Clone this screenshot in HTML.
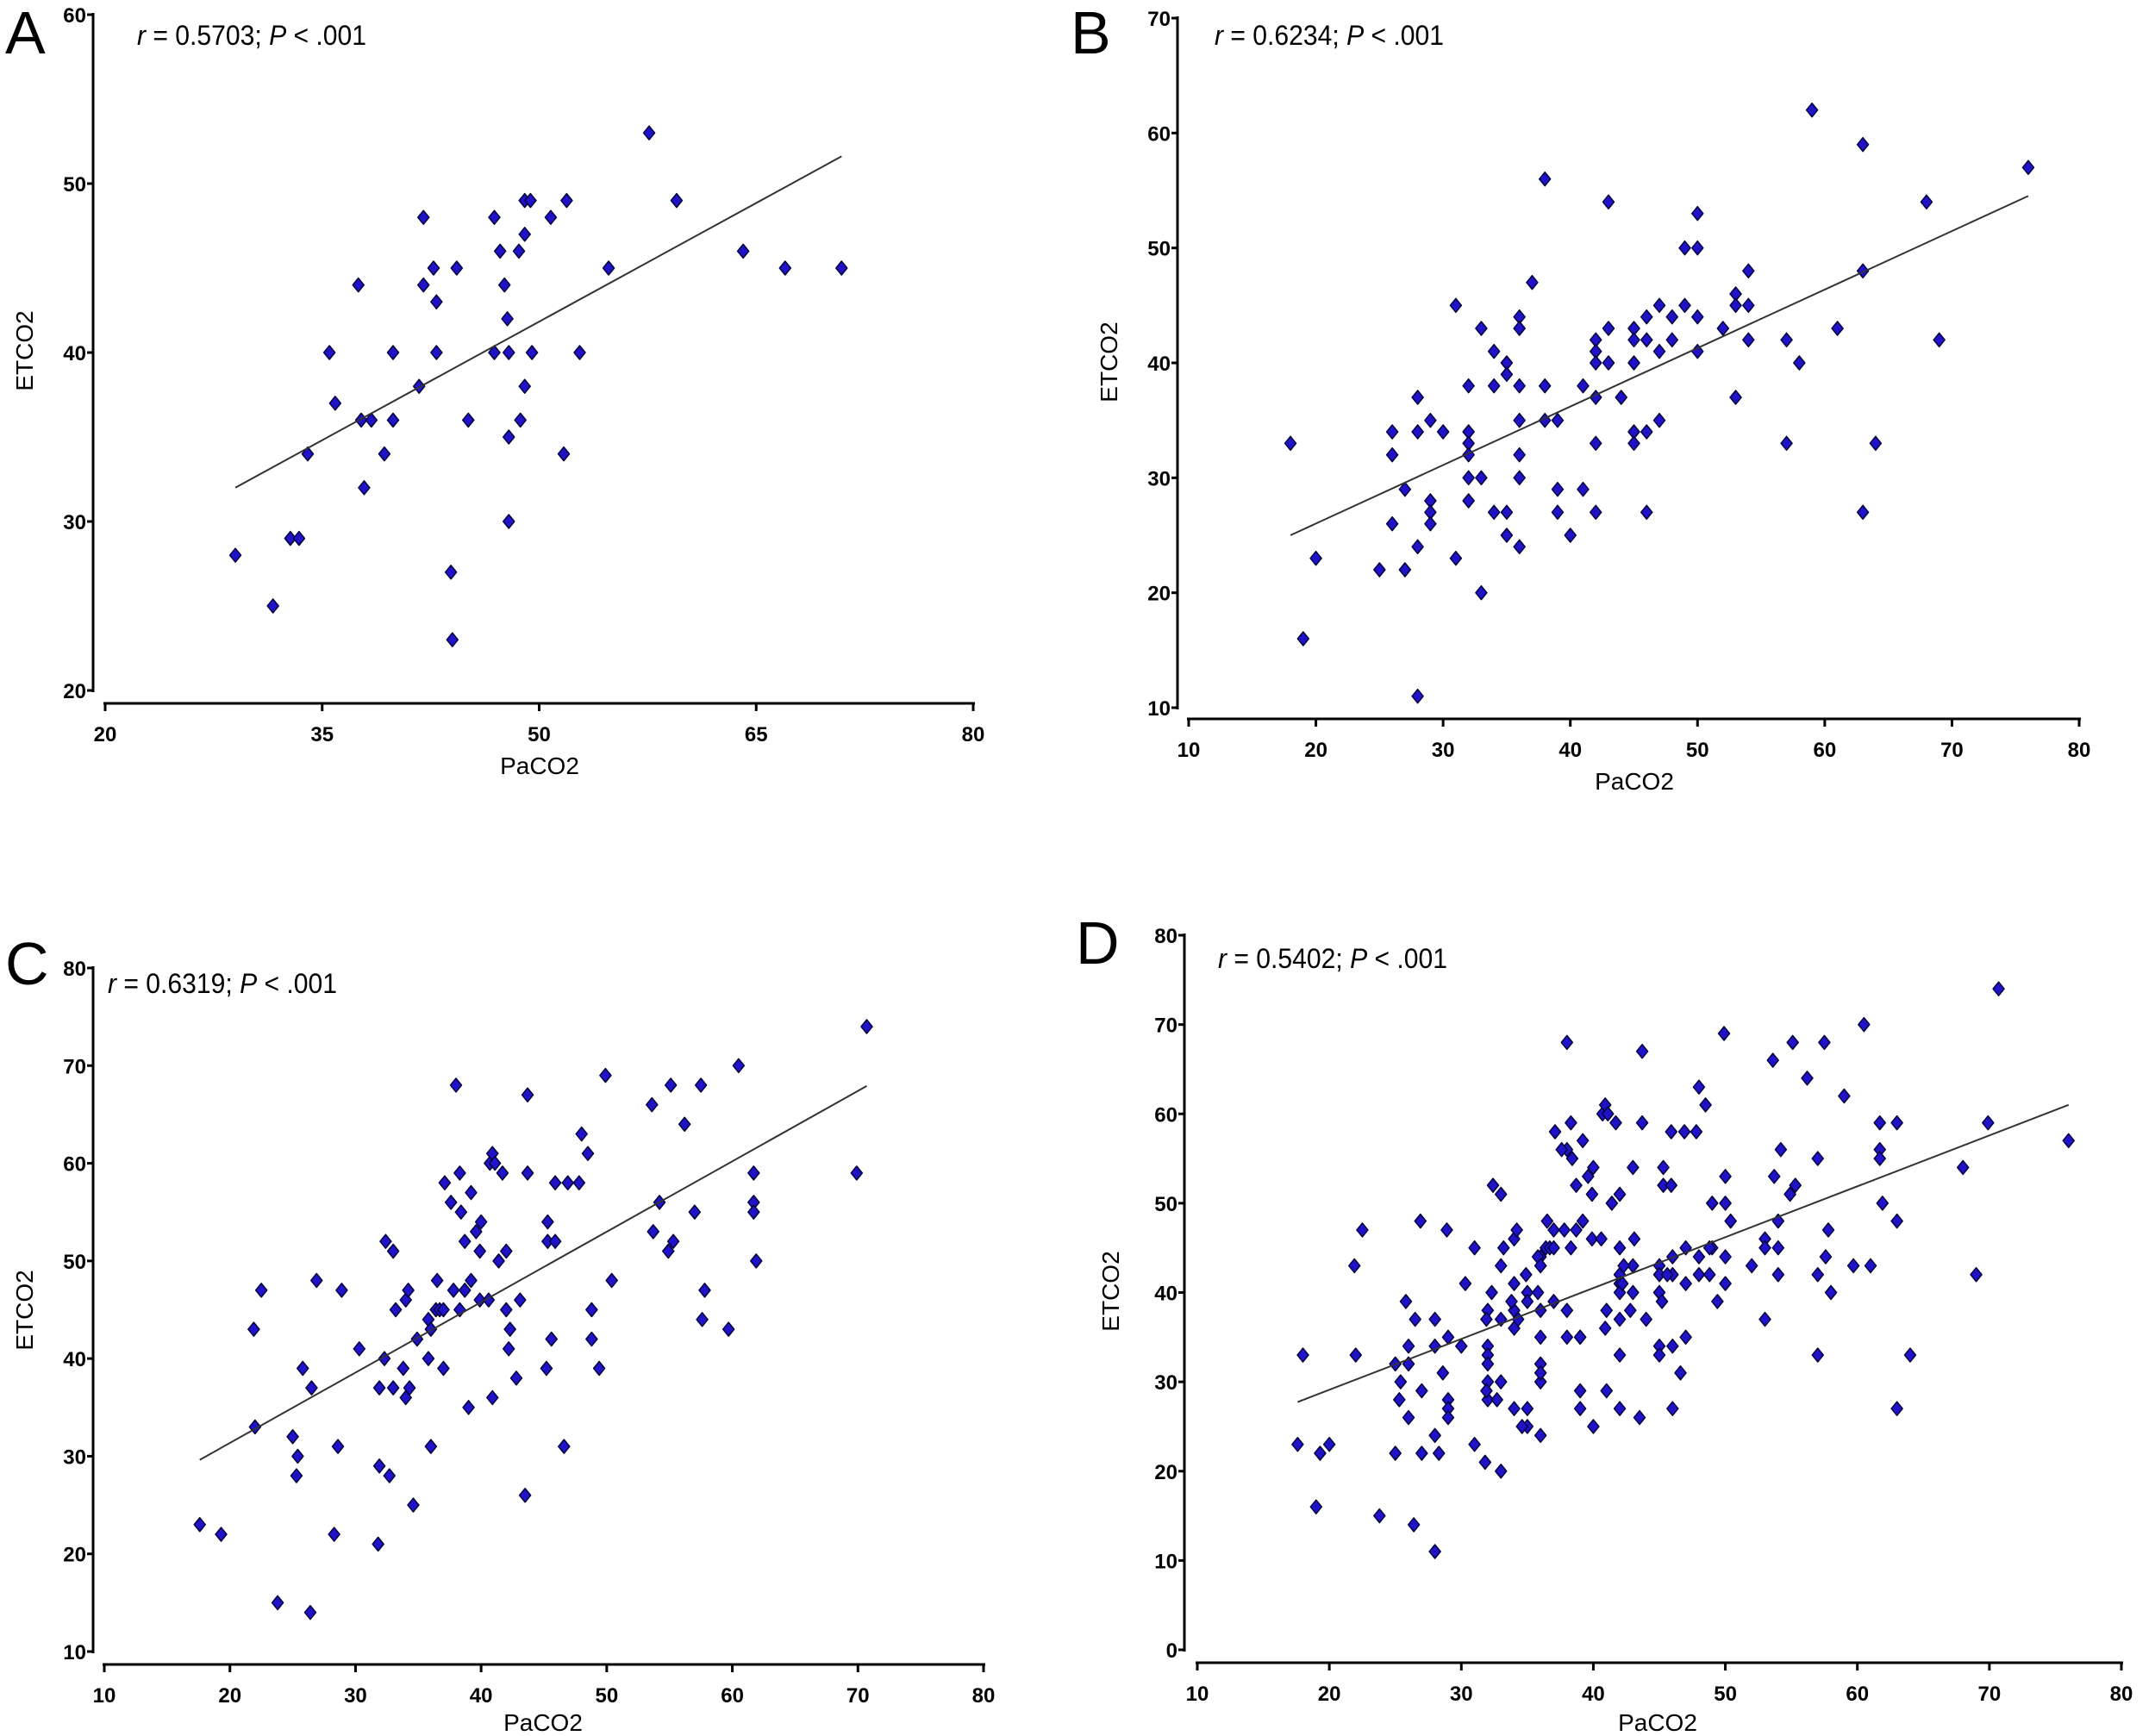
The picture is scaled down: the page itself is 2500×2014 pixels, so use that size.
<!DOCTYPE html>
<html><head><meta charset="utf-8"><style>
html,body{margin:0;padding:0;background:#fff;}
svg{display:block;}
.tk{font-family:"Liberation Sans Narrow","Liberation Sans",sans-serif;font-weight:bold;font-size:24px;fill:#000;}
.ttl{font-family:"Liberation Sans",sans-serif;font-size:28px;fill:#000;}
.ann{font-family:"Liberation Sans Narrow","Liberation Sans",sans-serif;font-size:32px;fill:#000;}
.let{font-family:"Liberation Sans",sans-serif;font-size:70px;fill:#000;}
</style></head><body>
<svg id="fig" width="2500" height="2014" viewBox="0 0 2500 2014" xmlns="http://www.w3.org/2000/svg"></svg>
<script>
// Panel A data
const aX=[29.0,31.6,32.8,33.4,34.0,35.5,35.9,37.5,37.9,37.7,38.4,39.3,39.9,39.9,41.7,42.0,42.0,42.7,42.9,42.9,43.9,44.0,44.3,45.1,46.9,46.9,47.3,47.6,47.8,47.9,47.9,47.9,48.6,48.7,49.0,49.0,49.0,49.4,49.5,50.8,51.7,51.9,52.8,54.8,57.6,59.5,64.1,67.0,70.9];
const aY=[28,25,29,29,34,40,37,44,32,36,36,34,40,36,38,48,44,45,43,40,27,23,45,36,48,40,46,44,42,40,35,30,46,36,47,38,49,49,40,48,34,49,40,45,53,49,46,45,45];
const aFit=[18.43,0.468];
// Panel B data
const bX=[18,19,20,25,26,26,26,27,27,28,28,28,28,29,29,29,29,30,31,31,32,32,32,32,32,32,33,33,33,34,34,34,35,35,35,35,36,36,36,36,36,36,36,37,38,38,38,39,39,39,40,41,41,42,42,42,42,42,42,43,43,43,44,45,45,45,45,45,46,46,46,46,47,47,47,48,48,49,49,50,50,50,50,52,53,53,53,54,54,54,57,57,58,59,61,63,63,63,64,68,69,76];
const bY=[33,16,23,22,34,32,26,29,22,37,34,24,11,35,28,27,26,34,45,23,38,34,33,32,30,28,43,30,20,41,38,27,40,39,27,25,44,43,38,35,32,30,24,47,56,38,35,35,29,27,25,38,29,42,41,40,37,33,27,54,43,40,37,43,42,40,34,33,44,42,34,27,45,41,35,44,42,50,45,53,50,44,41,43,46,45,37,48,45,42,42,33,40,62,43,59,48,27,33,54,42,57];
const bFit=[15.84,0.509];
// Panel C data
const cX=[17.6,19.3,22.0,21.9,22.5,23.8,25.0,25.4,25.3,25.8,26.5,26.4,26.9,28.3,28.6,28.9,30.3,31.8,31.9,31.9,32.3,32.4,32.7,33.0,33.0,33.2,33.8,34.0,34.0,34.2,34.3,34.6,34.9,35.8,36.0,35.8,36.0,36.5,36.4,36.7,37.0,37.0,37.1,37.6,38.0,38.3,37.8,38.7,38.3,38.4,38.7,39.0,39.2,39.2,39.6,39.9,40.0,39.9,40.6,40.7,40.9,41.1,40.9,41.4,41.7,42.0,42.0,42.3,42.2,42.8,43.1,43.7,43.7,43.5,45.2,45.3,45.3,45.9,45.6,45.9,46.6,46.9,47.8,48.0,48.5,48.8,48.8,49.4,49.9,50.4,53.6,53.7,54.2,54.9,55.1,55.3,56.2,57.0,57.5,57.6,57.8,59.7,60.5,61.7,61.7,61.7,61.9,69.9,70.7];
const cY=[23,22,33,43,47,15,32,30,28,39,37,14,48,22,31,47,41,21,29,37,40,52,28,51,37,45,39,46,36,47,37,25,42,44,43,40,31,48,45,45,45,39,58,56,68,59,47,47,45,55,52,35,57,48,53,51,54,46,46,60,61,60,36,50,59,51,45,43,41,38,46,59,67,26,39,54,52,52,42,58,31,58,58,63,61,45,42,39,69,48,66,53,56,51,68,52,64,55,68,44,47,43,70,59,56,55,50,59,74];
const cFit=[16.94,0.721];
// Panel D data
const dX=[18,19,20,25,26,26,26,27,27,28,28,28,28,29,29,29,29,30,31,31,32,32,32,32,32,32,33,33,33,34,34,34,35,35,35,35,36,36,36,36,36,36,36,37,38,38,38,39,39,39,40,41,41,42,42,42,42,42,42,43,43,43,44,45,45,45,45,45,46,46,46,46,47,47,47,48,48,49,49,50,50,50,50,52,53,53,53,54,54,54,57,57,58,59,61,63,63,63,64,68,69,76,17.6,19.3,22.0,21.9,22.5,23.8,25.0,25.4,25.3,25.8,26.5,26.4,26.9,28.3,28.6,28.9,30.3,31.8,31.9,31.9,32.3,32.4,32.7,33.0,33.0,33.2,33.8,34.0,34.0,34.2,34.3,34.6,34.9,35.8,36.0,35.8,36.0,36.5,36.4,36.7,37.0,37.0,37.1,37.6,38.0,38.3,37.8,38.7,38.3,38.4,38.7,39.0,39.2,39.2,39.6,39.9,40.0,39.9,40.6,40.7,40.9,41.1,40.9,41.4,41.7,42.0,42.0,42.3,42.2,42.8,43.1,43.7,43.7,43.5,45.2,45.3,45.3,45.9,45.6,45.9,46.6,46.9,47.8,48.0,48.5,48.8,48.8,49.4,49.9,50.4,53.6,53.7,54.2,54.9,55.1,55.3,56.2,57.0,57.5,57.6,57.8,59.7,60.5,61.7,61.7,61.7,61.9,69.9,70.7];
const dY=[33,16,23,22,34,32,26,29,22,37,34,24,11,35,28,27,26,34,45,23,38,34,33,32,30,28,43,30,20,41,38,27,40,39,27,25,44,43,38,35,32,30,24,47,56,38,35,35,29,27,25,38,29,42,41,40,37,33,27,54,43,40,37,43,42,40,34,33,44,42,34,27,45,41,35,44,42,50,45,53,50,44,41,43,46,45,37,48,45,42,42,33,40,62,43,59,48,27,33,54,42,57,23,22,33,43,47,15,32,30,28,39,37,14,48,22,31,47,41,21,29,37,40,52,28,51,37,45,39,46,36,47,37,25,42,44,43,40,31,48,45,45,45,39,58,56,68,59,47,47,45,55,52,35,57,48,53,51,54,46,46,60,61,60,36,50,59,51,45,43,41,38,46,59,67,26,39,54,52,52,42,58,31,58,58,63,61,45,42,39,69,48,66,53,56,51,68,52,64,55,68,44,47,43,70,59,56,55,50,59,74];
const dFit=[17.72,0.5695];
// tick labels
const aXTicks=[20,35,50,65,80], aYTicks=[20,30,40,50,60];
const bXTicks=[10,20,30,40,50,60,70,80], bYTicks=[10,20,30,40,50,60,70];
const cXTicks=[10,20,30,40,50,60,70,80], cYTicks=[10,20,30,40,50,60,70,80];
const dXTicks=[10,20,30,40,50,60,70,80], dYTicks=[0,10,20,30,40,50,60,70,80];
const labels=['A','B','C','D'];
const annos=['0.5703','0.6234','0.6319','0.5402'];

const NS='http://www.w3.org/2000/svg';
const fig=document.getElementById('fig');
function mk(tag,attrs,parent,text){const e=document.createElementNS(NS,tag);for(const k in attrs)e.setAttribute(k,attrs[k]);if(text!==undefined)e.textContent=text;parent.appendChild(e);return e;}

const layouts=[
 {ax:108,x0:122,x1:1129,xa:816,ytop:17,ybot:801,xt:aXTicks,yt:aYTicks,letX:6,letY:62,annX:159,annY:52,ttlX:626,ttlY:898,ytX:38,ytY:407},
 {ax:1366,x0:1379,x1:2412,xa:834,ytop:21,ybot:821,xt:bXTicks,yt:bYTicks,letX:1242,letY:62,annX:1409,annY:52,ttlX:1896,ttlY:916,ytX:1296,ytY:420},
 {ax:108,x0:121,x1:1141,xa:1931,ytop:1123,ybot:1916,xt:cXTicks,yt:cYTicks,letX:6,letY:1142,annX:125,annY:1152,ttlX:630,ttlY:2008,ytX:38,ytY:1520},
 {ax:1374,x0:1389,x1:2461,xa:1929,ytop:1085,ybot:1914,xt:dXTicks,yt:dYTicks,letX:1248,letY:1118,annX:1413,annY:1123,ttlX:1923,ttlY:2008,ytX:1298,ytY:1498}
];
const dataX=[aX,bX,cX,dX], dataY=[aY,bY,cY,dY], fits=[aFit,bFit,cFit,dFit];

layouts.forEach((L,i)=>{
 const g=mk('g',{},fig);
 
 
 const xmin=L.xt[0],xmax=L.xt[L.xt.length-1],ymin=L.yt[0],ymax=L.yt[L.yt.length-1];
 const sx=v=>L.x0+(v-xmin)/(xmax-xmin)*(L.x1-L.x0);
 const sy=v=>L.ybot-(v-ymin)/(ymax-ymin)*(L.ybot-L.ytop);
 const yax=mk('line',{x1:L.ax,y1:L.ytop-2,x2:L.ax,y2:L.ybot+2,stroke:'#000','stroke-width':3},g);
 
 
 const xax=mk('line',{x1:L.x0-2,y1:L.xa,x2:L.x1+2,y2:L.xa,stroke:'#000','stroke-width':3},g);
 
 
 L.yt.forEach(t=>{
  mk('line',{x1:L.ax-7,y1:sy(t),x2:L.ax,y2:sy(t),stroke:'#000','stroke-width':3},g);
  const tx=mk('text',{x:L.ax-8,y:sy(t)+9,'text-anchor':'end',class:'tk'},g,String(t));
  
  
 });
 L.xt.forEach(t=>{
  mk('line',{x1:sx(t),y1:L.xa,x2:sx(t),y2:L.xa+9,stroke:'#000','stroke-width':3},g);
  const tx=mk('text',{x:sx(t),y:L.xa+44,'text-anchor':'middle',class:'tk'},g,String(t));
  
  
 });
 const xt=mk('text',{x:L.ttlX,y:L.ttlY,'text-anchor':'middle',class:'ttl'},g,'PaCO2');
 
 
 const yt=mk('text',{x:L.ytX,y:L.ytY,'text-anchor':'middle',class:'ttl',transform:'rotate(-90 '+L.ytX+' '+L.ytY+')'},g,'ETCO2');
 
 
 const lt=mk('text',{x:L.letX,y:L.letY,class:'let'},g,labels[i]);
 
 
 const an=mk('text',{x:L.annX,y:L.annY,class:'ann',textLength:266,lengthAdjust:'spacingAndGlyphs'},g);
 
 
 mk('tspan',{'font-style':'italic'},an,'r');
 mk('tspan',{},an,' = '+annos[i]+'; ');
 mk('tspan',{'font-style':'italic'},an,'P');
 mk('tspan',{},an,' < .001');
 const xs=dataX[i],ys=dataY[i];
 xs.forEach((v,k)=>{
  const cx=sx(v),cy=sy(ys[k]);
  const p=mk('polygon',{points:(cx)+','+(cy-8)+' '+(cx+6.5)+','+cy+' '+cx+','+(cy+8)+' '+(cx-6.5)+','+cy,fill:'#1f12c8',stroke:'#05023a','stroke-width':1.5,'stroke-linejoin':'round'},g);
  
  
 });
 const mnx=Math.min(...xs),mxx=Math.max(...xs),f=fits[i];
 const rl=mk('line',{x1:sx(mnx),y1:sy(f[0]+f[1]*mnx),x2:sx(mxx),y2:sy(f[0]+f[1]*mxx),stroke:'#333','stroke-width':2},g);
 
 
});
</script>
</body></html>
